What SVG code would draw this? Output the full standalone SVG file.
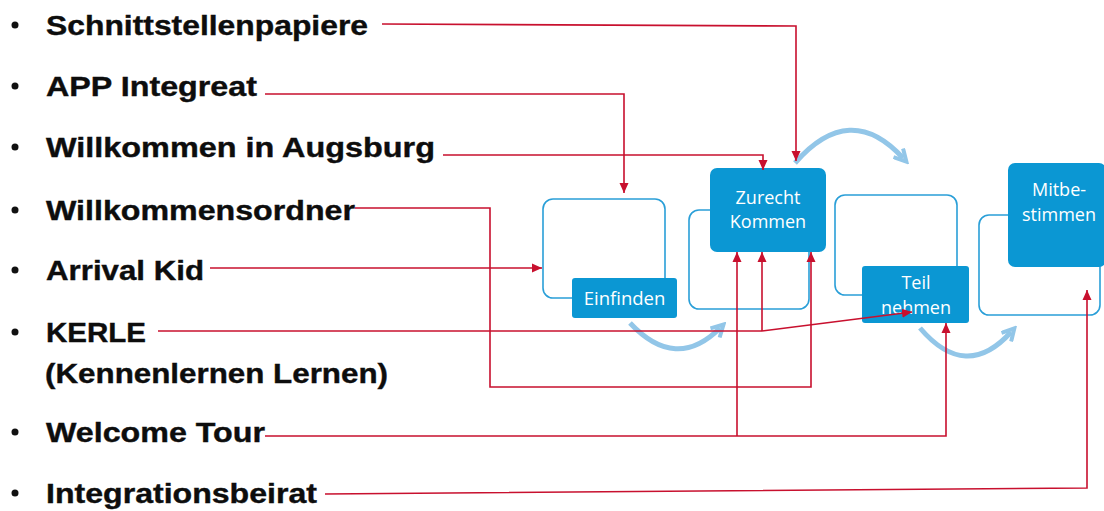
<svg xmlns="http://www.w3.org/2000/svg" width="1104" height="511" viewBox="0 0 1104 511">
<defs>
<style>
.lbl{font-family:"Liberation Sans",Arial,sans-serif;font-weight:bold;font-size:28.5px;fill:#0d0d0d;stroke:#0d0d0d;stroke-width:0.4}
.bul{fill:#111}
.out{fill:none;stroke:#2a9fd8;stroke-width:1.6}
.box{fill:#0b97d3}
.bt{font-family:"Open Sans","Noto Sans",sans-serif;font-size:18.5px;fill:#fff;text-anchor:middle}
.bt2{font-family:"Open Sans","Noto Sans",sans-serif;font-size:18px;fill:#fff;text-anchor:middle}
.red{fill:none;stroke:#c8102e;stroke-width:1.6}
.blue{fill:none;stroke:#92c6e8;stroke-width:5}
</style>
<marker id="ra" markerUnits="userSpaceOnUse" markerWidth="12" markerHeight="10" refX="10" refY="5" orient="auto">
<path d="M0,0.5 L10,5 L0,9.5 Z" fill="#c8102e"/>
</marker>
<marker id="ba" markerUnits="userSpaceOnUse" markerWidth="16" markerHeight="16" refX="8" refY="8" orient="auto">
<path d="M1,1.5 L13,8 L1,14.5" fill="none" stroke="#92c6e8" stroke-width="4" stroke-linejoin="miter"/>
</marker>
</defs>
<rect width="1104" height="511" fill="#fff"/>

<g id="labels">
<circle class="bul" cx="15" cy="25" r="3.5"/>
<text class="lbl" x="46" y="35" textLength="322" lengthAdjust="spacingAndGlyphs">Schnittstellenpapiere</text>
<circle class="bul" cx="15" cy="86" r="3.5"/>
<text class="lbl" x="46" y="96" textLength="211" lengthAdjust="spacingAndGlyphs">APP Integreat</text>
<circle class="bul" cx="15" cy="147" r="3.5"/>
<text class="lbl" x="46" y="157" textLength="389" lengthAdjust="spacingAndGlyphs">Willkommen in Augsburg</text>
<circle class="bul" cx="15" cy="210" r="3.5"/>
<text class="lbl" x="46" y="220" textLength="309" lengthAdjust="spacingAndGlyphs">Willkommensordner</text>
<circle class="bul" cx="15" cy="270" r="3.5"/>
<text class="lbl" x="46" y="280" textLength="158" lengthAdjust="spacingAndGlyphs">Arrival Kid</text>
<circle class="bul" cx="15" cy="332" r="3.5"/>
<text class="lbl" x="46" y="342" textLength="100" lengthAdjust="spacingAndGlyphs">KERLE</text>
<text class="lbl" x="45" y="383" textLength="343" lengthAdjust="spacingAndGlyphs">(Kennenlernen Lernen)</text>
<circle class="bul" cx="15" cy="432" r="3.5"/>
<text class="lbl" x="46" y="442" textLength="219" lengthAdjust="spacingAndGlyphs">Welcome Tour</text>
<circle class="bul" cx="15" cy="493" r="3.5"/>
<text class="lbl" x="46" y="503" textLength="271" lengthAdjust="spacingAndGlyphs">Integrationsbeirat</text>
</g>

<g id="node-einfinden">
<rect class="out" x="543" y="199" width="122" height="99" rx="10"/>
<rect class="box" x="572" y="278" width="105" height="40" rx="3"/>
<text class="bt" x="624.5" y="305">Einfinden</text>
</g>

<g id="node-zurecht">
<rect class="out" x="689" y="210" width="120" height="99" rx="10"/>
<rect class="box" x="710" y="168" width="116" height="84" rx="7"/>
<text class="bt2" x="768" y="203.5">Zurecht</text>
<text class="bt2" x="768" y="228.2">Kommen</text>
</g>

<g id="node-teil">
<rect class="out" x="835" y="195" width="122" height="100" rx="10"/>
<rect class="box" x="862" y="266" width="107" height="57" rx="3"/>
<text class="bt2" x="916" y="289">Teil</text>
<text class="bt2" x="916" y="313.7">nehmen</text>
</g>

<g id="node-mitbe">
<rect class="out" x="979" y="215" width="121" height="100" rx="10"/>
<rect class="box" x="1008" y="163" width="98" height="104" rx="7"/>
<text class="bt2" x="1059" y="196">Mitbe-</text>
<text class="bt2" x="1059" y="220.7">stimmen</text>
</g>

<g id="flow-arrows">
<path class="blue" d="M630,323 Q676,372 720,328" marker-end="url(#ba)"/>
<path class="blue" d="M795,163 Q850,100 903,158" marker-end="url(#ba)"/>
<path class="blue" d="M920,328 Q966,382 1011,332" marker-end="url(#ba)"/>
</g>

<g id="connectors">
<polyline class="red" points="382,24 796,26 796,161" marker-end="url(#ra)"/>
<polyline class="red" points="265,94 624,94 624,193" marker-end="url(#ra)"/>
<polyline class="red" points="443,155 763,155 763,170" marker-end="url(#ra)"/>
<polyline class="red" points="355,208 490,208 490,387 811,387 811,252" marker-end="url(#ra)"/>
<polyline class="red" points="210,268 542,268" marker-end="url(#ra)"/>
<polyline class="red" points="158,331 762,331"/>
<polyline class="red" points="762,331 762,252" marker-end="url(#ra)"/>
<polyline class="red" points="762,331 912,312" marker-end="url(#ra)"/>
<polyline class="red" points="265,436 946,436 946,323" marker-end="url(#ra)"/>
<polyline class="red" points="737,436 737,252" marker-end="url(#ra)"/>
<polyline class="red" points="325,494 1087,488 1087,290" marker-end="url(#ra)"/>
</g>
</svg>
